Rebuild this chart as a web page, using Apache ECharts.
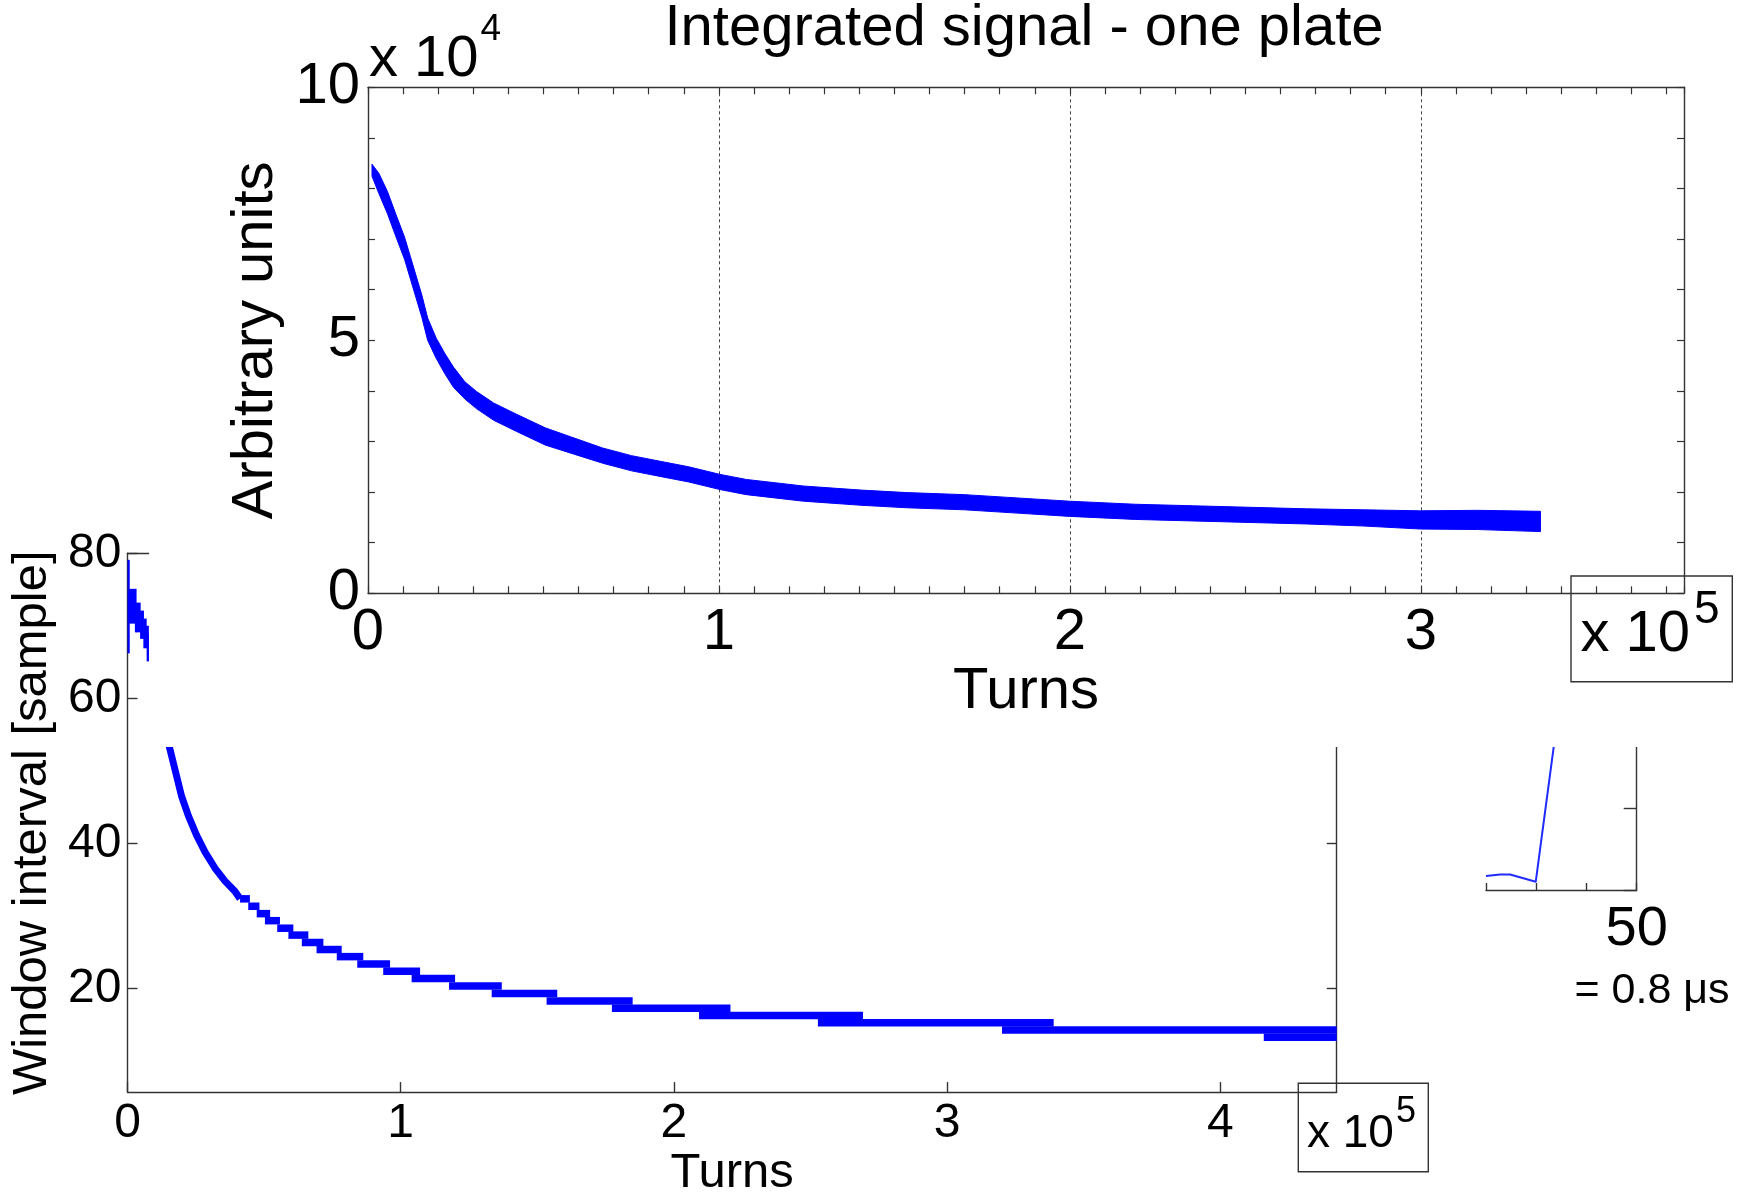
<!DOCTYPE html>
<html>
<head>
<meta charset="utf-8">
<title>Integrated signal - one plate</title>
<script src="https://cdn.jsdelivr.net/npm/echarts@6/dist/echarts.min.js"></script>
<style>
  html, body { margin: 0; padding: 0; background: #fff; }
  #chart { width: 1745px; height: 1199px; }
</style>
</head>
<body>
<div id="chart"></div>
<script>
// ---------------- data ----------------

// Integrated signal, one plate: envelope of the noisy trace (turns, arbitrary units)
const sigTurns = [1140, 3100, 5550, 8000, 10460, 12090, 13730, 15360, 17000, 19460,
  21900, 24360, 27600, 30900, 35800, 42300, 50500, 58700, 66900, 75100,
  83200, 91400, 100300, 107800, 124100, 140500, 153600, 169900, 186100, 199900,
  218600, 234900, 251100, 267400, 283700, 299900, 316200, 334100];
const sigUpper = [84800, 83000, 79400, 74800, 70300, 66500, 62700, 58900, 54400, 50400,
  47400, 44700, 41800, 39900, 37600, 35400, 32700, 30700, 28700, 27200,
  26100, 25000, 23500, 22500, 21200, 20400, 19900, 19500, 18800, 18200,
  17600, 17300, 17000, 16700, 16500, 16300, 16400, 16200];
const sigLower = [82400, 79000, 75000, 70400, 65900, 62100, 58300, 54500, 50000, 46400,
  43400, 40700, 38400, 36500, 34200, 32000, 29300, 27500, 25700, 24200,
  23100, 22000, 20500, 19500, 18200, 17400, 16900, 16500, 15800, 15200,
  14600, 14300, 14000, 13700, 13300, 12700, 12600, 12200];

// Window interval [sample] versus turns
// first turns: spread of the interval values [turnsFrom, turnsTo, low, high]
const winStartBlocks = [
  [0, 600, 66.2, 79.1],
  [200, 2700, 70.3, 75.1],
  [2700, 3100, 69.1, 75.1],
  [3100, 4600, 69.1, 73.2],
  [4600, 5800, 68.2, 72.1],
  [5800, 6800, 66.9, 71.0],
  [6800, 7000, 66.9, 70.0],
  [7000, 7600, 65.1, 70.0],
  [7600, 7900, 65.1, 68.9]
];
// fast decay
const winDecayTurns = [15260, 17400, 19800, 22300, 25300, 28400, 32000, 35700, 39300, 41200];
const winDecayValues = [53.4, 50.15, 46.5, 43.8, 41.1, 38.8, 36.6, 34.8, 33.4, 32.35];
// plateaus of the quantised interval
const winStepFrom  = [41200, 44200, 47300, 50300, 54800, 58900, 63800, 69200, 76600, 84100,
  93600, 104000, 117700, 133300, 153400, 177300, 209200, 252700, 320100, 415900];
const winStepTo    = [44800, 48300, 52200, 55800, 60700, 66200, 71700, 78400, 86300, 96100,
  107100, 119900, 137000, 157300, 184900, 220700, 269200, 339000, 442600, 442600];
const winStepLevel = [32.35, 31.33, 30.31, 29.34, 28.3, 27.35, 26.33, 25.36, 24.38, 23.37,
  22.37, 21.36, 20.32, 19.28, 18.26, 17.26, 16.26, 15.26, 14.26, 13.26];

// detail of one pulse edge (sample, amplitude)
const pulseSamples = [20, 22.8, 24.8, 29.9, 33.6];
const pulseValues  = [0.17, 0.19, 0.19, 0.10, 1.80];

// tick labels
const sigXLabels = ['0', '1', '2', '3'];          // x 10^5 turns
const sigYLabels = ['0', '5', '10'];              // x 10^4
const winXLabels = ['0', '1', '2', '3', '4'];     // x 10^5 turns
const winYTicks  = [20, 40, 60, 80];
const pulseXLabel = '50';

// ---------------- styles ----------------
const FONT = "'Liberation Sans', Arial, Helvetica, sans-serif";
const BLUE = '#0000ff';
const AXIS = '#333333';
const axisLine = { show: true, onZero: false, lineStyle: { color: AXIS, width: 1.4 } };

// ---------------- chart ----------------
const chart = echarts.init(document.getElementById('chart'), null, { renderer: 'canvas' });

const option = {
  backgroundColor: '#ffffff',
  animation: false,
  title: {
    text: 'Integrated signal - one plate',
    left: 1019, top: -5, textAlign: 'center', zlevel: 2,
    textStyle: { fontFamily: FONT, fontSize: 58, fontWeight: 'normal', color: '#000' }
  },
  grid: [
    { left: 127.5, top: 553.3, width: 1209.2, height: 547.4 },  // window interval
    { left: 1486, top: 726, width: 150.7, height: 164 },       // pulse detail
    { left: 368, top: 87.3, width: 1316, height: 506 }         // integrated signal
  ],
  xAxis: [
    { // window interval, bottom
      gridIndex: 0, type: 'value', min: 0, max: 442600, interval: 100000, position: 'bottom',
      axisLine: axisLine,
      axisTick: { show: true, inside: true, length: 10, lineStyle: { color: AXIS, width: 1.4 } },
      axisLabel: { showMaxLabel: false, margin: 8, fontFamily: FONT, fontSize: 48, color: '#000',
        formatter: v => winXLabels[Math.round(v / 100000)] ?? '' },
      splitLine: { show: false },
      name: 'Turns', nameLocation: 'middle', nameGap: 53,
      nameTextStyle: { fontFamily: FONT, fontSize: 49, color: '#000' }
    },
    { // window interval, top frame
      gridIndex: 0, type: 'value', min: 0, max: 442600, position: 'top',
      axisLine: axisLine, axisTick: { show: false }, axisLabel: { show: false }, splitLine: { show: false }
    },
    { // pulse detail
      gridIndex: 1, type: 'value', min: 20, max: 50, interval: 10, position: 'bottom',
      axisLine: axisLine,
      axisTick: { show: true, inside: true, length: 7, lineStyle: { color: AXIS, width: 1.4 } },
      axisLabel: { margin: 12, fontFamily: FONT, fontSize: 56, color: '#000',
        formatter: v => (v === 50 ? pulseXLabel : '') },
      splitLine: { show: false }
    },
    { // integrated signal, bottom
      gridIndex: 2, type: 'value', min: 0, max: 375000, interval: 100000, position: 'bottom', zlevel: 2,
      axisLine: axisLine,
      axisTick: { show: true, inside: true, length: 7, lineStyle: { color: AXIS, width: 1.2 } },
      minorTick: { show: true, splitNumber: 10, length: 7, lineStyle: { color: AXIS, width: 1.2 } },
      axisLabel: { showMaxLabel: false, margin: 11, fontFamily: FONT, fontSize: 58, color: '#000',
        formatter: v => sigXLabels[Math.round(v / 100000)] ?? '' },
      splitLine: { show: true, lineStyle: { color: '#444', width: 1, type: [3, 3] } },
      name: 'Turns', nameLocation: 'middle', nameGap: 67,
      nameTextStyle: { fontFamily: FONT, fontSize: 58, color: '#000' }
    },
    { // integrated signal, top frame
      gridIndex: 2, type: 'value', min: 0, max: 375000, interval: 100000, position: 'top', zlevel: 2,
      axisLine: axisLine,
      axisTick: { show: true, inside: true, length: 7, lineStyle: { color: AXIS, width: 1.2 } },
      minorTick: { show: true, splitNumber: 10, length: 7, lineStyle: { color: AXIS, width: 1.2 } },
      axisLabel: { show: false }, splitLine: { show: false }
    }
  ],
  yAxis: [
    { // window interval, left
      gridIndex: 0, type: 'value', min: 5.7, max: 80, position: 'left',
      axisLine: axisLine,
      axisTick: { show: true, inside: true, length: 10, customValues: winYTicks,
        lineStyle: { color: AXIS, width: 1.4 } },
      axisLabel: { margin: 6, fontFamily: FONT, fontSize: 48, color: '#000', customValues: winYTicks },
      splitLine: { show: false },
      name: 'Window interval [sample]', nameLocation: 'middle', nameGap: 65, nameRotate: 90,
      nameTextStyle: { fontFamily: FONT, fontSize: 49, color: '#000' }
    },
    { // window interval, right frame
      gridIndex: 0, type: 'value', min: 5.7, max: 80, position: 'right',
      axisLine: axisLine,
      axisTick: { show: true, inside: true, length: 10, customValues: winYTicks,
        lineStyle: { color: AXIS, width: 1.4 } },
      axisLabel: { show: false }, splitLine: { show: false }
    },
    { // pulse detail, right
      gridIndex: 1, type: 'value', min: 0, max: 2, interval: 1, position: 'right',
      axisLine: axisLine,
      axisTick: { show: true, inside: true, length: 13, lineStyle: { color: AXIS, width: 1.4 } },
      axisLabel: { show: false }, splitLine: { show: false }
    },
    { // integrated signal, left
      gridIndex: 2, type: 'value', min: 0, max: 100000, interval: 50000, position: 'left', zlevel: 2,
      axisLine: axisLine,
      axisTick: { show: true, inside: true, length: 7, lineStyle: { color: AXIS, width: 1.2 } },
      minorTick: { show: true, splitNumber: 5, length: 7, lineStyle: { color: AXIS, width: 1.2 } },
      axisLabel: { margin: 8, fontFamily: FONT, fontSize: 58, color: '#000',
        formatter: v => sigYLabels[Math.round(v / 50000)] ?? '' },
      splitLine: { show: false },
      name: 'Arbitrary units', nameLocation: 'middle', nameGap: 83, nameRotate: 90,
      nameTextStyle: { fontFamily: FONT, fontSize: 58, color: '#000' }
    },
    { // integrated signal, right frame
      gridIndex: 2, type: 'value', min: 0, max: 100000, interval: 50000, position: 'right', zlevel: 2,
      axisLine: axisLine,
      axisTick: { show: true, inside: true, length: 7, lineStyle: { color: AXIS, width: 1.2 } },
      minorTick: { show: true, splitNumber: 5, length: 7, lineStyle: { color: AXIS, width: 1.2 } },
      axisLabel: { show: false }, splitLine: { show: false }
    }
  ],
  series: [
    { // spread of the first window intervals
      type: 'custom', xAxisIndex: 0, yAxisIndex: 0, zlevel: 0,
      encode: { x: [0, 1], y: [2, 3] },
      data: winStartBlocks,
      renderItem: (params, api) => {
        const a = api.coord([api.value(0), api.value(3)]);
        const b = api.coord([api.value(1), api.value(2)]);
        return { type: 'rect', shape: { x: a[0], y: a[1], width: b[0] - a[0] + 0.6, height: b[1] - a[1] },
          style: { fill: BLUE } };
      }
    },
    { // fast decay of the window interval
      type: 'line', xAxisIndex: 0, yAxisIndex: 0, zlevel: 0,
      data: winDecayTurns.map((t, i) => [t, winDecayValues[i]]),
      symbol: 'none', lineStyle: { color: BLUE, width: 7, cap: 'butt', join: 'bevel' }
    },
    { // interval plateaus
      type: 'custom', xAxisIndex: 0, yAxisIndex: 0, zlevel: 0,
      encode: { x: [0, 1], y: 2 },
      data: winStepFrom.map((f, i) => [f, winStepTo[i], winStepLevel[i]]),
      renderItem: (params, api) => {
        const a = api.coord([api.value(0), api.value(2)]);
        const b = api.coord([api.value(1), api.value(2)]);
        const h = 7.5;
        return { type: 'rect', shape: { x: a[0], y: a[1] - h / 2, width: b[0] - a[0], height: h },
          style: { fill: BLUE } };
      }
    },
    { // pulse edge detail
      type: 'line', xAxisIndex: 2, yAxisIndex: 2, zlevel: 0,
      data: pulseSamples.map((s, i) => [s, pulseValues[i]]),
      symbol: 'none', lineStyle: { color: '#1f2bff', width: 2 }
    },
    { // integrated signal band
      type: 'custom', xAxisIndex: 3, yAxisIndex: 3, zlevel: 2,
      data: [[sigTurns[0], sigUpper[0]]],
      renderItem: (params, api) => {
        const pts = [];
        for (let i = 0; i < sigTurns.length; i++) pts.push(api.coord([sigTurns[i], sigUpper[i]]));
        for (let i = sigTurns.length - 1; i >= 0; i--) pts.push(api.coord([sigTurns[i], sigLower[i]]));
        return { type: 'polygon', shape: { points: pts }, style: { fill: BLUE, stroke: BLUE, lineWidth: 1 } };
      }
    }
  ],
  graphic: {
    elements: [
      // the integrated-signal panel sits over the upper part of the window panel
      { type: 'rect', zlevel: 1, silent: true,
        shape: { x: 149, y: 0, width: 1596, height: 747 }, style: { fill: '#ffffff' } },

      // exponent of the signal axis
      { type: 'text', zlevel: 2, x: 369, y: 60.3,
        style: { text: 'x 10', font: '58px ' + FONT, fill: '#000', textAlign: 'left', textVerticalAlign: 'middle' } },
      { type: 'text', zlevel: 2, x: 480.5, y: 30,
        style: { text: '4', font: '37px ' + FONT, fill: '#000', textAlign: 'left', textVerticalAlign: 'middle' } },

      // exponent of the turns axis, signal panel
      { type: 'rect', zlevel: 2, shape: { x: 1571, y: 576, width: 161.3, height: 105.7 },
        style: { fill: 'none', stroke: AXIS, lineWidth: 1.4 } },
      { type: 'text', zlevel: 2, x: 1580.5, y: 634.5,
        style: { text: 'x 10', font: '58px ' + FONT, fill: '#000', textAlign: 'left', textVerticalAlign: 'middle' } },
      { type: 'text', zlevel: 2, x: 1694, y: 610.5,
        style: { text: '5', font: '46px ' + FONT, fill: '#000', textAlign: 'left', textVerticalAlign: 'middle' } },

      // exponent of the turns axis, window panel
      { type: 'rect', zlevel: 0, shape: { x: 1298.3, y: 1083.3, width: 130, height: 88.4 },
        style: { fill: 'none', stroke: AXIS, lineWidth: 1.4 } },
      { type: 'text', zlevel: 0, x: 1307, y: 1134.7,
        style: { text: 'x 10', font: '46px ' + FONT, fill: '#000', textAlign: 'left', textVerticalAlign: 'middle' } },
      { type: 'text', zlevel: 0, x: 1396, y: 1111.7,
        style: { text: '5', font: '36px ' + FONT, fill: '#000', textAlign: 'left', textVerticalAlign: 'middle' } },

      // sample duration note under the pulse detail
      { type: 'text', zlevel: 0, x: 1652, y: 991,
        style: { text: '= 0.8 \u03bcs', font: '43px ' + FONT, fill: '#000', textAlign: 'center', textVerticalAlign: 'middle' } }
    ]
  }
};

chart.setOption(option);
</script>
</body>
</html>
